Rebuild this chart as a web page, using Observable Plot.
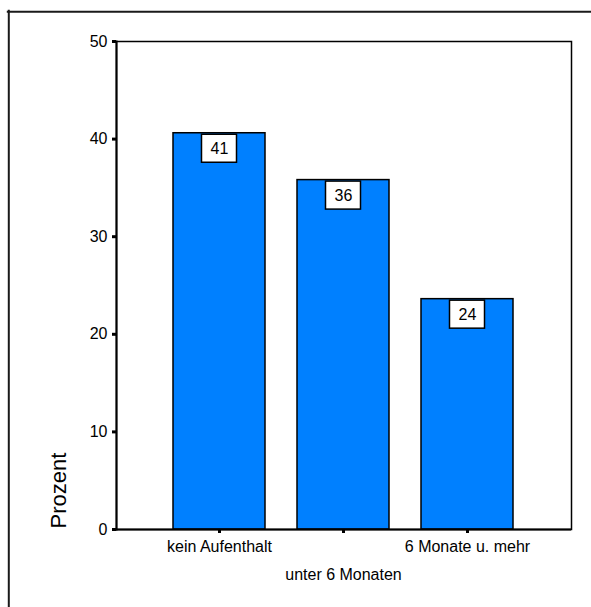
<!DOCTYPE html>
<html><head><meta charset="utf-8">
<script src="https://cdn.jsdelivr.net/npm/d3@7"></script>
<script src="https://cdn.jsdelivr.net/npm/@observablehq/plot@0.6"></script>
<style>body{margin:0;background:#fff;overflow:hidden}</style>
</head><body><div id="chart"></div>
<script>
const categories = ["kein Aufenthalt", "unter 6 Monaten", "6 Monate u. mehr"];
const percents = [40.6, 35.8, 23.6];
const valueLabels = ["41", "36", "24"];
const yTicks = [0, 10, 20, 30, 40, 50];
const yLabel = "Prozent";

const data = categories.map((c, i) => ({category: c, value: percents[i], label: valueLabels[i]}));
const font = "'Liberation Sans', Arial, sans-serif";

const chart = Plot.plot({
  width: 591,
  height: 607,
  marginLeft: 116,
  marginRight: 20,
  marginTop: 41,
  marginBottom: 78,
  style: {fontFamily: font, background: "#fff", color: "#000", overflow: "hidden", display: "block"},
  x: {type: "band", domain: categories, paddingInner: 0.255, paddingOuter: 0.461, axis: null},
  y: {domain: [0, 50], axis: null},
  marks: [
    // outer chart border: only its left and top edges are inside the picture
    Plot.frame({anchor: "left", stroke: "#1a1a1a", strokeWidth: 2, insetLeft: -107.7, insetTop: -30.7, insetBottom: -200}),
    Plot.frame({anchor: "top", stroke: "#1a1a1a", strokeWidth: 2, insetLeft: -108.7, insetTop: -29.7, insetRight: -200}),
    // plot box
    Plot.frame({stroke: "#000", strokeWidth: 1.5}),
    Plot.barY(data, {x: "category", y: "value", fill: "#0080ff", stroke: "#000", strokeWidth: 1.5}),
    // value label boxes
    Plot.barY(data, {x: "category", y1: "value", y2: "value", fill: "#fff", stroke: "#000", strokeWidth: 1.5,
      insetLeft: 28.5, insetRight: 28.5, insetTop: 1.5, insetBottom: -29.5}),
    Plot.text(data, {x: "category", y: "value", text: "label", dy: 15.5, fontSize: 16, fill: "#000"}),
    Plot.frame({anchor: "left", stroke: "#000", strokeWidth: 2}),
    Plot.ruleY([0], {stroke: "#000", strokeWidth: 2}),
    Plot.axisY({ticks: yTicks, tickSize: 4, strokeWidth: 3, tickPadding: 5, fontSize: 16, label: null, fill: "#000"}),
    Plot.axisX({tickSize: 4, strokeWidth: 3, tickPadding: 7.3, fontSize: 16, label: null, fill: "#000",
      tickFormat: d => d === categories[1] ? "" : d}),
    Plot.axisX({ticks: [categories[1]], tickSize: 0, tickPadding: 39.3, fontSize: 16, label: null, fill: "#000"}),
    Plot.text([yLabel], {frameAnchor: "bottom-left", rotate: -90, textAnchor: "start", lineAnchor: "bottom",
      dx: -50.5, dy: -1, fontSize: 22, fill: "#000"})
  ]
});
document.getElementById("chart").appendChild(chart);
</script>
</body></html>
